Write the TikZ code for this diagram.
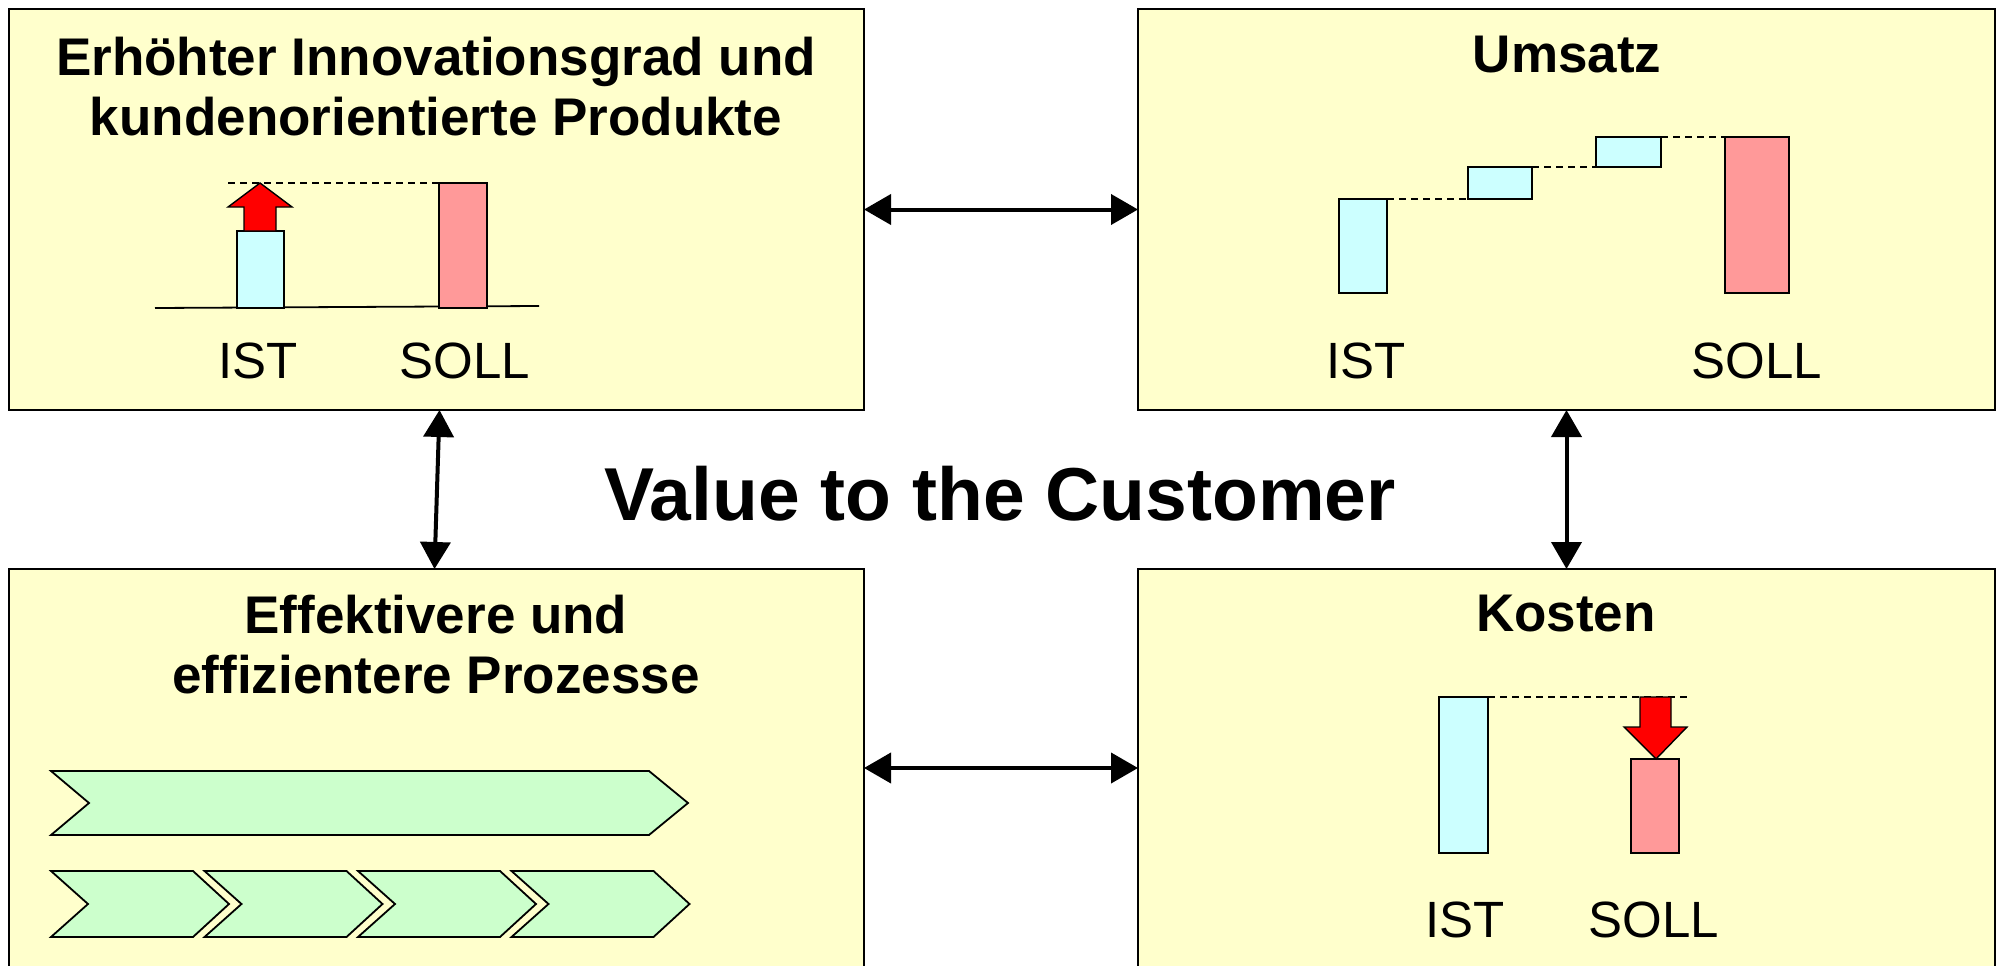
\documentclass[tikz,border=0pt]{standalone}
\usepackage{fontspec}
\setmainfont{Liberation Sans}
\usetikzlibrary{arrows.meta,calc}
\definecolor{panel}{HTML}{FFFFCC}
\definecolor{istfill}{HTML}{CCFFFF}
\definecolor{sollfill}{HTML}{FF9999}
\definecolor{procfill}{HTML}{CCFFCC}
\definecolor{deltared}{HTML}{FF0000}
\begin{document}
\begin{tikzpicture}[x=1pt,y=-1pt,
  panelbox/.style={draw=black,line width=2pt,fill=panel,rectangle,inner sep=0pt,outer sep=0pt,anchor=north west},
  % multi-line headings are placed by the baseline of their last line
  paneltitle/.style={font=\fontsize{53}{60}\selectfont\bfseries,align=center,anchor=base,inner sep=0pt},
  barlabel/.style={font=\fontsize{51}{60}\selectfont,anchor=base,inner sep=0pt},
  bar/.style={draw=black,line width=1.8pt,inner sep=0pt,outer sep=0pt,anchor=north west},
  istbar/.style={bar,fill=istfill},
  sollbar/.style={bar,fill=sollfill},
  guide/.style={draw=black,line width=1.4pt,dash pattern=on 7pt off 5pt},
  delta/.style={draw=black,line width=1.4pt,fill=deltared,line join=miter},
  procarrow/.style={draw=black,line width=1.8pt,fill=procfill,line join=miter},
  link/.style={line width=4pt,{Triangle[length=27pt,width=30pt]}-{Triangle[length=27pt,width=30pt]}},
]
\useasboundingbox (0,0) rectangle (1998,966);
\clip (0,0) rectangle (1998,966);

% four panels
\node[panelbox,minimum width=855pt,minimum height=401pt] (tl) at (9,9) {};
\node[panelbox,minimum width=857pt,minimum height=401pt] (tr) at (1138,9) {};
\node[panelbox,minimum width=855pt,minimum height=398pt] (bl) at (9,569) {};
\node[panelbox,minimum width=857pt,minimum height=398pt] (br) at (1138,569) {};

% panel headings
\node[paneltitle] (tlT) at (436,135) {Erhöhter Innovationsgrad und\\kundenorientierte Produkte};
\node[paneltitle] (trT) at (1567,73) {Umsatz};
\node[paneltitle] (blT) at (436,693) {Effektivere und\\effizientere Prozesse};
\node[paneltitle] (brT) at (1566,631) {Kosten};

% central statement
\node[font=\fontsize{75}{80}\selectfont\bfseries,anchor=base,inner sep=0pt] (vtc) at (1000,520) {Value to the Customer};

% innovation: IST raised to SOLL
\draw[line width=1.8pt] (155,308) -- (539,306);
\node[istbar,minimum width=47pt,minimum height=77pt] (tlist) at (237,231) {};
\node[sollbar,minimum width=48pt,minimum height=125pt] (tlsoll) at (439,183) {};
\coordinate (tlguide) at (228,183);
\draw[guide] (tlguide) -- (tlsoll.north west);
\draw[delta] (244,231) -- (244,207) -- (228,207) -- (260,183) -- (292,207) -- (276,207) -- (276,231) -- cycle;
\node[barlabel] (tlistL) at (258,378) {IST};
\node[barlabel] (tlsollL) at (465,378) {SOLL};

% revenue: waterfall
\node[istbar,minimum width=48pt,minimum height=94pt] (trist) at (1339,199) {};
\node[istbar,minimum width=64pt,minimum height=32pt] (trs1) at (1468,167) {};
\node[istbar,minimum width=65pt,minimum height=30pt] (trs2) at (1596,137) {};
\node[sollbar,minimum width=64pt,minimum height=156pt] (trsoll) at (1725,137) {};
\draw[guide] (trist.north east) -- (trs1.south west);
\draw[guide] (trs1.north east) -- (trs2.south west);
\draw[guide] (trs2.north east) -- (trsoll.north west);
\node[barlabel] (tristL) at (1366,378) {IST};
\node[barlabel] (trsollL) at (1757,378) {SOLL};

% processes: one long chevron, then four short ones
\draw[procarrow] (51,771) -- (649,771) -- (688,803) -- (649,835) -- (51,835) -- (89,803) -- cycle;
\foreach \i in {0,...,3}{
  \pgfmathsetmacro{\xa}{51+153.5*\i}
  \draw[procarrow] (\xa,871) -- (\xa+142,871) -- (\xa+178,904) -- (\xa+142,937) -- (\xa,937) -- (\xa+37,904) -- cycle;
}

% costs: IST lowered to SOLL
\node[istbar,minimum width=49pt,minimum height=156pt] (brist) at (1439,697) {};
\node[sollbar,minimum width=48pt,minimum height=94pt] (brsoll) at (1631,759) {};
\coordinate (brguide) at (1687,697);
\draw[guide] (brist.north east) -- (brguide);
\draw[delta] (1640,697) -- (1671,697) -- (1671,727) -- (1687,727) -- (1656,759) -- (1624,727) -- (1640,727) -- cycle;
\node[barlabel] (bristL) at (1465,937) {IST};
\node[barlabel] (brsollL) at (1654,937) {SOLL};

% links between the panels
\draw[link] (tl.east) -- (tr.west);
\draw[link] (bl.east) -- (br.west);
\draw[link] ($(tl.south)+(3,0)$) -- ($(bl.north)+(-2,0)$);
\draw[link] (tr.south) -- (br.north);
\end{tikzpicture}
\end{document}
